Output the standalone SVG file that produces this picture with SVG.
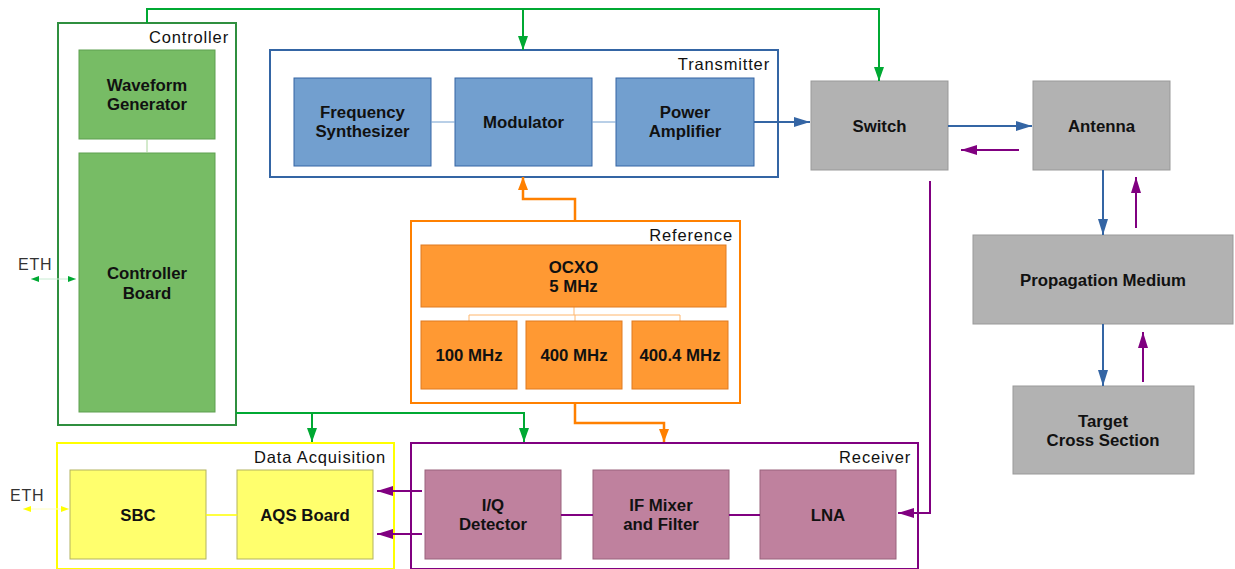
<svg xmlns="http://www.w3.org/2000/svg" width="1235" height="569" viewBox="0 0 1235 569">
<style>
.t{font-family:"Liberation Sans",Arial,sans-serif;font-size:16.8px;font-weight:bold;text-anchor:middle;fill:#111}
.lbl{font-family:"Liberation Sans",Arial,sans-serif;font-size:16.5px;letter-spacing:0.85px;text-anchor:end;fill:#111}
.eth{font-family:"Liberation Sans",Arial,sans-serif;font-size:16px;letter-spacing:0.8px;fill:#333}
.c-ctl{fill:none;stroke:#2f8f3f;stroke-width:2}
.c-tx{fill:none;stroke:#3465a4;stroke-width:2}
.c-ref{fill:none;stroke:#ff8000;stroke-width:2}
.c-rx{fill:none;stroke:#800080;stroke-width:2}
.c-da{fill:none;stroke:#ffff00;stroke-width:2}
.n-g{fill:#77bc65;stroke:#5f9f50;stroke-width:1}
.n-b{fill:#729fcf;stroke:#3465a4;stroke-width:1}
.n-o{fill:#ff9933;stroke:#e07a20;stroke-width:1}
.n-p{fill:#bf819e;stroke:#99627c;stroke-width:1}
.n-y{fill:#ffff6d;stroke:#b3b360;stroke-width:1}
.n-s{fill:#b2b2b2;stroke:#999999;stroke-width:1}
.lg{fill:none;stroke:#00a933;stroke-width:2}
.lb{fill:none;stroke:#3465a4;stroke-width:2}
.lp{fill:none;stroke:#800080;stroke-width:2}
.lo{fill:none;stroke:#ff8000;stroke-width:2.5}
</style>
<defs>
<marker id="ag" viewBox="0 0 14 10" markerWidth="14" markerHeight="10" refX="14" refY="5" orient="auto" markerUnits="userSpaceOnUse"><path d="M0,0 L14,5 L0,10 z" fill="#00a933"/></marker>
<marker id="ab" viewBox="0 0 16 10" markerWidth="16" markerHeight="10" refX="16" refY="5" orient="auto" markerUnits="userSpaceOnUse"><path d="M0,0 L16,5 L0,10 z" fill="#3465a4"/></marker>
<marker id="ap" viewBox="0 0 16 10" markerWidth="16" markerHeight="10" refX="16" refY="5" orient="auto" markerUnits="userSpaceOnUse"><path d="M0,0 L16,5 L0,10 z" fill="#800080"/></marker>
<marker id="ao" viewBox="0 0 13 10" markerWidth="13" markerHeight="10" refX="13" refY="5" orient="auto" markerUnits="userSpaceOnUse"><path d="M0,0 L13,5 L0,10 z" fill="#ff8000"/></marker>
<marker id="ae" viewBox="0 0 8 6" markerWidth="8" markerHeight="6" refX="8" refY="3" orient="auto-start-reverse" markerUnits="userSpaceOnUse"><path d="M0,0 L8,3 L0,6 z" fill="#00a933"/></marker>
<marker id="ay" viewBox="0 0 8 6" markerWidth="8" markerHeight="6" refX="8" refY="3" orient="auto-start-reverse" markerUnits="userSpaceOnUse"><path d="M0,0 L8,3 L0,6 z" fill="#ffff00"/></marker>
</defs>

<g id="controller">
<rect class="c-ctl" x="58" y="23" width="178" height="402"/>
<text class="lbl" x="229" y="43">Controller</text>
</g>
<g id="waveform-generator">
<rect class="n-g" x="79" y="50" width="136" height="89"/>
<text class="t" x="147" y="91">Waveform</text>
<text class="t" x="147" y="110">Generator</text>
</g>
<g id="controller-board">
<rect class="n-g" x="79" y="153" width="136" height="259"/>
<text class="t" x="147" y="279">Controller</text>
<text class="t" x="147" y="299">Board</text>
</g>

<g id="transmitter">
<rect class="c-tx" x="270" y="50" width="508" height="127"/>
<text class="lbl" x="770" y="70">Transmitter</text>
</g>
<g id="frequency-synthesizer">
<rect class="n-b" x="294" y="78" width="137" height="88"/>
<text class="t" x="362.5" y="118">Frequency</text>
<text class="t" x="362.5" y="137">Synthesizer</text>
</g>
<g id="modulator">
<rect class="n-b" x="455" y="78" width="137" height="88"/>
<text class="t" x="523.5" y="128">Modulator</text>
</g>
<g id="power-amplifier">
<rect class="n-b" x="616" y="78" width="138" height="88"/>
<text class="t" x="685" y="118">Power</text>
<text class="t" x="685" y="137">Amplifier</text>
</g>

<g id="switch">
<rect class="n-s" x="811" y="81" width="137" height="89"/>
<text class="t" x="879.5" y="132">Switch</text>
</g>
<g id="antenna">
<rect class="n-s" x="1033" y="81" width="137" height="89"/>
<text class="t" x="1101.5" y="132">Antenna</text>
</g>
<g id="propagation-medium">
<rect class="n-s" x="973" y="235" width="260" height="89"/>
<text class="t" x="1103" y="286">Propagation Medium</text>
</g>
<g id="target-cross-section">
<rect class="n-s" x="1013" y="386" width="181" height="88"/>
<text class="t" x="1103" y="427">Target</text>
<text class="t" x="1103" y="446">Cross Section</text>
</g>

<g id="reference">
<rect class="c-ref" x="411" y="221" width="329" height="182"/>
<text class="lbl" x="733" y="241">Reference</text>
<path d="M574,307 V315 M469,315 H680 M469,315 V321 M575,315 V321 M680,315 V321" fill="none" stroke="#ffb66c" stroke-width="1"/>
</g>
<g id="ocxo">
<rect class="n-o" x="421" y="245" width="305" height="62"/>
<text class="t" x="573.5" y="273">OCXO</text>
<text class="t" x="573.5" y="292">5 MHz</text>
</g>
<g id="f100">
<rect class="n-o" x="421" y="321" width="96" height="68"/>
<text class="t" x="469" y="361">100 MHz</text>
</g>
<g id="f400">
<rect class="n-o" x="526" y="321" width="96" height="68"/>
<text class="t" x="574" y="361">400 MHz</text>
</g>
<g id="f4004">
<rect class="n-o" x="632" y="321" width="96" height="68"/>
<text class="t" x="680" y="361">400.4 MHz</text>
</g>

<g id="data-acquisition">
<rect class="c-da" x="57" y="443" width="337" height="126"/>
<text class="lbl" x="386" y="463">Data Acquisition</text>
</g>
<g id="sbc">
<rect class="n-y" x="70" y="470" width="136" height="89"/>
<text class="t" x="138" y="521">SBC</text>
</g>
<g id="aqs-board">
<rect class="n-y" x="237" y="470" width="136" height="89"/>
<text class="t" x="305" y="521">AQS Board</text>
</g>

<g id="receiver">
<rect class="c-rx" x="411" y="443" width="507" height="126"/>
<text class="lbl" x="911" y="463">Receiver</text>
</g>
<g id="iq-detector">
<rect class="n-p" x="425" y="470" width="136" height="89"/>
<text class="t" x="493" y="511">I/Q</text>
<text class="t" x="493" y="530">Detector</text>
</g>
<g id="if-mixer">
<rect class="n-p" x="593" y="470" width="136" height="89"/>
<text class="t" x="661" y="511">IF Mixer</text>
<text class="t" x="661" y="530">and Filter</text>
</g>
<g id="lna">
<rect class="n-p" x="760" y="470" width="136" height="89"/>
<text class="t" x="828" y="521">LNA</text>
</g>

<g id="eth-labels">
<text class="eth" x="18" y="270">ETH</text>
<text class="eth" x="10" y="501">ETH</text>
</g>

<g id="connectors">
<path d="M147,139 V153" fill="none" stroke="#a8d59a" stroke-width="1"/>
<path d="M431,122 H455 M592,122 H616" fill="none" stroke="#729fcf" stroke-width="1"/>
<path d="M206,515 H237" fill="none" stroke="#ffff00" stroke-width="1.5"/>
<path class="lp" d="M561,515 H593 M729,515 H760"/>
<path d="M31,279 H76" fill="none" stroke="#c8ecd2" stroke-width="1" marker-start="url(#ae)" marker-end="url(#ae)"/>
<path d="M23,509 H69" fill="none" stroke="#ffffc0" stroke-width="1" marker-start="url(#ay)" marker-end="url(#ay)"/>
<path class="lg" d="M147,23 V9 H879 V81" marker-end="url(#ag)"/>
<path class="lg" d="M523,9 V50" marker-end="url(#ag)"/>
<path class="lg" d="M236,413 H524 V442" marker-end="url(#ag)"/>
<path class="lg" d="M312,413 V442" marker-end="url(#ag)"/>
<path class="lo" d="M575,221 V199 H523 V177" marker-end="url(#ao)"/>
<path class="lo" d="M575,403 V423 H664 V442" marker-end="url(#ao)"/>
<path class="lb" d="M754,122 H810" marker-end="url(#ab)"/>
<path class="lb" d="M948,126 H1032" marker-end="url(#ab)"/>
<path class="lb" d="M1103,170 V235" marker-end="url(#ab)"/>
<path class="lb" d="M1103,324 V386" marker-end="url(#ab)"/>
<path class="lp" d="M1019,150 H961" marker-end="url(#ap)"/>
<path class="lp" d="M1136,228 V177" marker-end="url(#ap)"/>
<path class="lp" d="M1143,382 V332" marker-end="url(#ap)"/>
<path class="lp" d="M930,181 V513 H898" marker-end="url(#ap)"/>
<path class="lp" d="M422,491 H377" marker-end="url(#ap)"/>
<path class="lp" d="M422,534 H377" marker-end="url(#ap)"/>
</g>
</svg>
